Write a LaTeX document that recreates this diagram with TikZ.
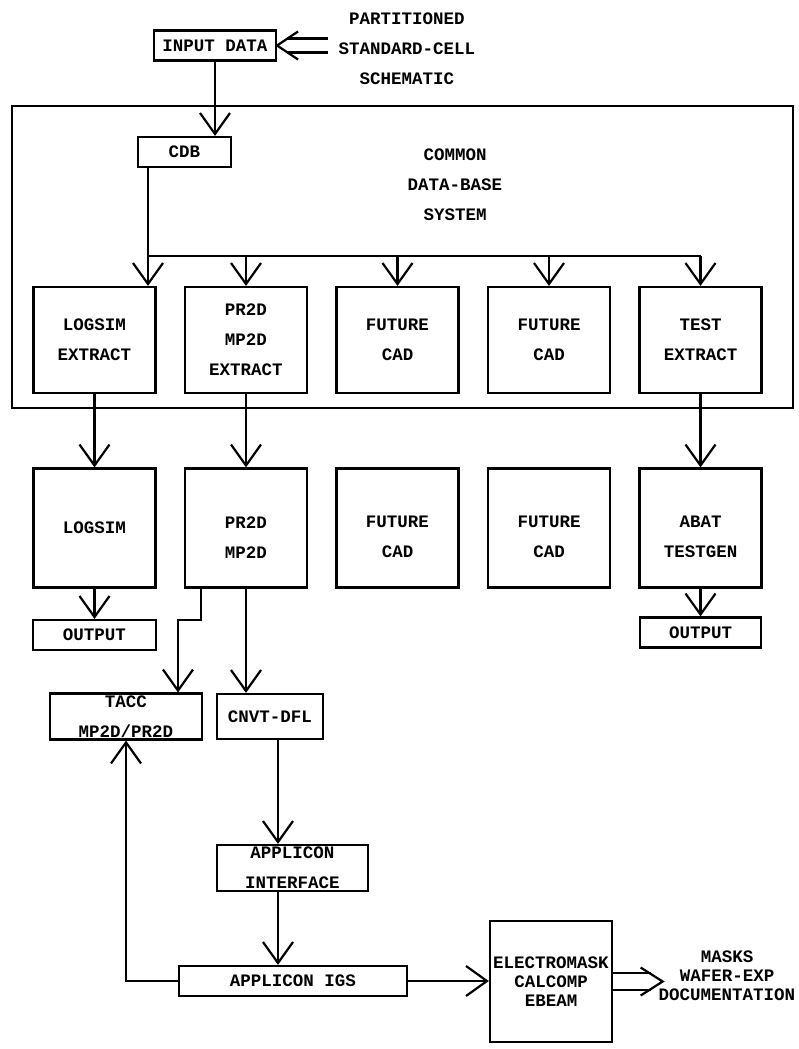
\documentclass[tikz,border=0pt]{standalone}
\usepackage{fontspec}
\newfontfamily\plotfamily{Liberation Mono}
\usetikzlibrary{arrows.meta,positioning}
\newcommand\plotfont{\plotfamily\bfseries\fontsize{17.5}{30}\selectfont}
\newcommand\plottight{\plotfamily\bfseries\fontsize{17.5}{19}\selectfont}

\begin{document}
\begin{tikzpicture}[
    x=1pt, y=-1pt,
    line width=2.2pt,
    node distance=27.3pt,
    lbl/.style={align=center, font=\plotfont, inner sep=1pt},
    blk/.style={rectangle, draw, minimum width=122pt, minimum height=106pt, inner sep=2pt, align=center, font=\plotfont},
    tall/.style={blk, minimum height=119pt},
    bar/.style={rectangle, draw, minimum height=30pt, inner sep=2pt, align=center, font=\plotfont},
    arrow/.style={-{Straight Barb[length=21pt, width=30pt]}},
    dbl/.style={double, double distance=#1}
]
\useasboundingbox (0,0) rectangle (798,1049);

% input
\node[bar, minimum width=122pt] (in) at (215,45.5) {INPUT DATA};
\node[lbl] (parts) at (407,48.5) {PARTITIONED\\STANDARD-CELL\\SCHEMATIC};

% common data-base system
\node[draw, minimum width=781pt, minimum height=302pt, inner sep=0pt] (dbs) at (402.5,257) {};
\node[bar, minimum width=93pt] (cdb) at (184.5,152) {CDB};
\node[lbl] (common) at (455,184.5) {COMMON\\DATA-BASE\\SYSTEM};

\node[blk] (lgx) at (94.5,340) {LOGSIM\\EXTRACT};
\node[blk, right=of lgx] (prx) {PR2D\\MP2D\\EXTRACT};
\node[blk, right=of prx] (fc1) {FUTURE\\CAD};
\node[blk, right=of fc1] (fc2) {FUTURE\\CAD};
\node[blk, right=of fc2] (tsx) {TEST\\EXTRACT};

% tools
\node[tall, below=73.3pt of lgx] (lgs) {LOGSIM};
\node[tall, right=of lgs] (prs) {~\\PR2D\\MP2D};
\node[tall, right=of prs] (fd1) {~\\FUTURE\\CAD};
\node[tall, right=of fd1] (fd2) {~\\FUTURE\\CAD};
\node[tall, right=of fd2] (abs) {~\\ABAT\\TESTGEN};
\node[bar, minimum width=123pt, below=30.3pt of lgs] (out1) {OUTPUT};
\node[bar, minimum width=121pt, below=27.8pt of abs] (out2) {OUTPUT};

% mask path
\node[bar, minimum width=152pt, minimum height=45pt] (tacc) at (126,716.5) {TACC\\MP2D/PR2D};
\node[bar, minimum width=106pt, minimum height=45pt] (cnvt) at (270,716.5) {CNVT-DFL};
\node[bar, minimum width=151pt, minimum height=46pt] (intf) at (292.5,868) {APPLICON\\INTERFACE};
\node[bar, minimum width=228pt] (igs) at (293,981) {APPLICON IGS};
\node[blk, minimum height=121pt, font=\plottight] (em) at (551,981.5) {ELECTROMASK\\CALCOMP\\EBEAM};
\node[lbl, font=\plottight] (masks) at (727,976) {MASKS\\WAFER-EXP\\DOCUMENTATION};

\draw[dbl=11.8pt] ([xshift=-9pt]parts.west |- in.east) -- ([xshift=10pt]in.east);
\draw ([shift={(21,-14)}]in.east) -- (in.east) -- ([shift={(21,14)}]in.east);
\draw[arrow] (in.south) -- (in.south |- cdb.north);

\coordinate (busL) at (148,256);
\draw (cdb.south -| busL) -- (busL) -- (busL -| tsx.north);
\draw[arrow] (busL) -- (busL |- lgx.north);
\foreach \n in {prx,fc1,fc2,tsx}
    \draw[arrow] (busL -| \n.north) -- (\n.north);

\foreach \a/\b in {lgx/lgs, prx/prs, tsx/abs}
    \draw[arrow] (\a.south) -- (\b.north);
\draw[arrow] (lgs.south) -- (out1.north);
\draw[arrow] (abs.south) -- (out2.north);

\draw[arrow] ([xshift=-45pt]prs.south) -- ++(0,31) -| ([xshift=52pt]tacc.north);
\draw[arrow] (prs.south) -- (prs.south |- cnvt.north);
\draw[arrow] ([xshift=8pt]cnvt.south) -- ([xshift=8pt]cnvt.south |- intf.north);
\draw[arrow] ([xshift=8pt]cnvt.south |- intf.south) -- ([xshift=8pt]cnvt.south |- igs.north);
\draw[arrow] (igs.west) -| (tacc.south);
\draw[arrow] (igs.east) -- (igs.east -| em.west);

\coordinate (tip) at ([xshift=6pt]masks.west |- em.east);
\draw[dbl=14.8pt] (em.east) -- ([xshift=-12pt]tip);
\draw ([shift={(-22,-14)}]tip) -- (tip) -- ([shift={(-22,14)}]tip);
\end{tikzpicture}
\end{document}
